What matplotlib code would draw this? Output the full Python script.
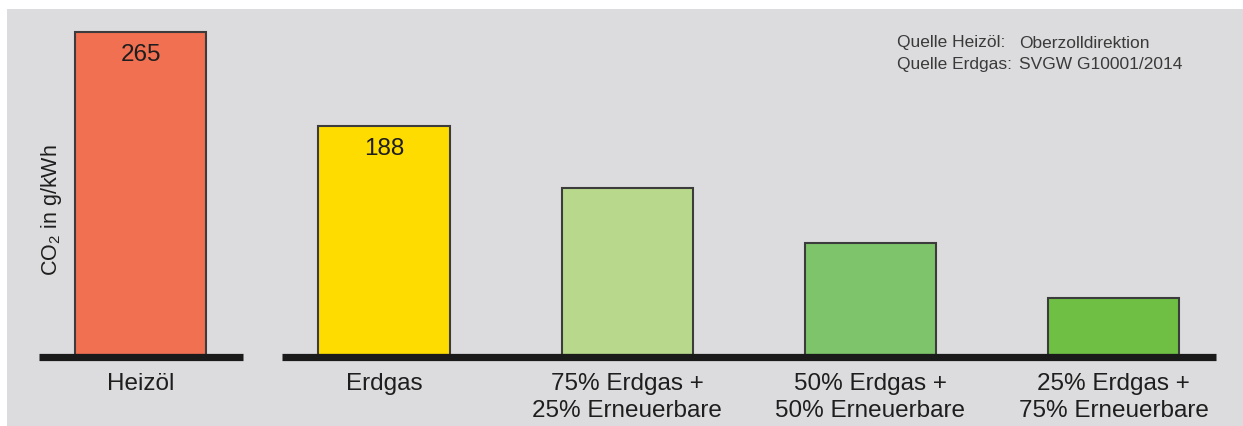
import matplotlib
matplotlib.use("Agg")
import matplotlib.pyplot as plt
from matplotlib.patches import Rectangle

plt.rcParams["font.family"] = ["Liberation Sans", "DejaVu Sans"]
plt.rcParams["mathtext.fontset"] = "custom"
plt.rcParams["mathtext.rm"] = "Liberation Sans"

categories = ["Heizöl", "Erdgas", "75% Erdgas +\n25% Erneuerbare",
              "50% Erdgas +\n50% Erneuerbare", "25% Erdgas +\n75% Erneuerbare"]
values = [265, 188, 137, 92, 47]
shown = ["265", "188", None, None, None]          # only the first two are labelled
colors = ["#f07051", "#ffdc00", "#b8d98b", "#7dc46a", "#6fbf45"]
source_keys = ["Quelle Heizöl:", "Quelle Erdgas:"]
source_vals = ["Oberzolldirektion", "SVGW G10001/2014"]

BG = "#dcdcde"
TXT = "#1e1e1e"
W = 0.54                                          # bar width in category units
PAD = 0.15                                        # baseline overhang past the bars

fig = plt.figure(figsize=(12.43, 4.27), dpi=100)
fig.patches.append(Rectangle((7 / 1243, 0), 1, 1 - 10 / 427, transform=fig.transFigure,
                             facecolor=BG, edgecolor="none", zorder=-10))
ax = fig.add_axes([0, 71 / 427, 1, 356 / 427])
ax.set_facecolor("none")
x = list(range(len(values)))
ax.bar(x, values, width=W, color=colors, edgecolor="#3c3c3c", linewidth=1.5, zorder=2)
ax.set_xlim(-0.579, 4.532)
ax.set_ylim(0, 292)
ax.axis("off")

# thick baseline, split after the first bar
ax.plot([x[0] - W / 2 - PAD, x[0] + W / 2 + PAD], [-2, -2], color="#1a1a1a", lw=5.2,
        solid_capstyle="butt", clip_on=False, zorder=3)
ax.plot([x[1] - W / 2 - PAD, x[-1] + W / 2 + PAD], [-2, -2], color="#1a1a1a", lw=5.2,
        solid_capstyle="butt", clip_on=False, zorder=3)

for xi, v, s in zip(x, values, shown):
    if s:
        ax.annotate(s, (xi, v), xytext=(0, -16), textcoords="offset points",
                    ha="center", va="center", fontsize=17.5, color=TXT, zorder=4)

for xi, c in zip(x, categories):
    ax.annotate(c, (xi, 0), xycoords=("data", "axes fraction"), xytext=(0, -12),
                textcoords="offset points", ha="center", va="top", fontsize=17.5,
                color=TXT, linespacing=1.33, annotation_clip=False)

fig.text(52 / 1243, 1 - 210 / 427, r"CO$_\mathregular{2}$ in g/kWh", rotation=90,
         ha="center", va="center", fontsize=15.5, color=TXT)

for i, (k, v) in enumerate(zip(source_keys, source_vals)):
    yy = 1 - (43 + 22 * i) / 427
    fig.text(897 / 1243, yy, k, ha="left", va="center", fontsize=12.5, color="#3a3a3a")
    fig.text(1019 / 1243, yy, v, ha="left", va="center", fontsize=12.5, color="#3a3a3a")

fig.savefig("out.png", dpi=100, facecolor="white")
